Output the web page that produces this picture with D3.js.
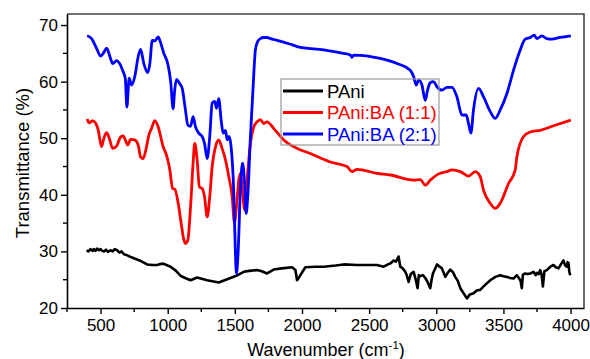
<!DOCTYPE html>
<html><head><meta charset="utf-8">
<script src="https://cdn.jsdelivr.net/npm/d3@7"></script>
<style>body{margin:0;background:#fff}svg{display:block}</style>
</head><body>
<script>
const xTicks = [500,1000,1500,2000,2500,3000,3500,4000];
const yTicks = [20,30,40,50,60,70];
const seriesNames = ["PAni","PAni:BA (1:1)","PAni:BA (2:1)"];
const seriesColors = ["#000000","#ff0000","#0000ff"];

const blueWn = [400,433,470,502,520,545,570,590,619,639,669,684,696,713,731,755,780,798,822,852,867,885,904,929,941,971,1003,1022,1040,1052,1065,1090,1108,1132,1150,1170,1189,1207,1231,1257,1274,1294,1313,1331,1350,1363,1380,1398,1413,1430,1443,1457,1472,1492,1504,1512,1524,1542,1557,1571,1584,1596,1616,1636,1653,1670,1690,1715,1740,1765,1815,1914,1964,2161,2310,2360,2372,2385,2583,2707,2806,2831,2851,2868,2893,2918,2935,2955,2980,3005,3042,3079,3117,3154,3191,3223,3240,3258,3277,3315,3352,3402,3439,3476,3526,3575,3625,3662,3700,3729,3749,3786,3823,3860,3922,4002];
const blueT = [68.1,67.6,65.9,64.5,65.0,65.9,64.4,63.2,63.7,63.3,61.7,60.6,55.5,60.6,59.4,60.9,64.4,65.7,63.2,61.6,63.2,67.3,67.2,67.9,67.3,65.0,62.9,60.0,55.2,58.5,60.4,59.6,58.8,55.0,52.3,52.1,53.8,52.0,50.9,50.3,49.1,46.4,50.3,56.2,56.5,55.3,57.0,53.2,50.9,51.4,49.7,50.3,48.5,40.3,29.7,26.1,29.7,41.4,45.6,42.6,36.7,39.7,50.3,59.1,65.6,67.1,67.6,67.8,67.8,67.6,67.3,66.6,66.2,65.6,65.0,64.7,64.3,64.7,64.1,63.2,62.0,60.9,59.4,60.3,59.4,56.7,58.5,59.8,60.0,59.1,58.5,59.0,59.0,57.3,54.1,54.1,52.6,50.9,55.0,58.8,57.3,54.7,53.5,55.0,57.9,62.0,65.6,67.5,67.8,68.2,67.6,68.1,67.6,67.5,67.8,68.1];

const redWn = [400,415,440,465,483,507,525,545,565,590,619,649,669,684,703,723,755,780,798,817,837,860,879,904,929,966,991,1016,1036,1053,1078,1100,1118,1132,1150,1170,1189,1201,1219,1236,1257,1274,1294,1313,1331,1356,1380,1405,1430,1455,1480,1497,1512,1529,1542,1557,1574,1591,1616,1641,1666,1690,1715,1740,1790,1864,1964,2062,2211,2335,2372,2410,2558,2658,2831,2881,2918,2955,3017,3079,3117,3179,3240,3290,3327,3352,3402,3439,3476,3538,3588,3600,3650,3700,3774,3873,4002];
const redT = [53.4,52.7,53.1,52.6,51.4,48.5,50.0,51.0,50.0,48.2,48.6,50.2,50.4,49.7,48.8,49.8,49.7,48.8,46.7,46.4,47.9,50.6,51.7,53.1,52.0,48.5,47.0,44.4,41.1,41.0,38.5,35.0,32.3,31.4,32.0,37.9,45.6,49.1,46.2,41.4,41.1,39.7,36.1,39.7,45.0,48.5,49.7,48.2,46.2,43.2,39.7,35.0,37.9,42.6,43.8,40.3,37.3,42.6,49.1,52.0,52.9,53.3,52.6,52.9,51.7,49.7,48.2,47.3,45.8,45.0,44.1,44.5,43.8,43.5,42.6,42.7,41.7,42.6,43.7,44.1,44.4,44.1,43.3,44.1,43.2,40.8,38.5,37.6,38.5,42.0,44.4,46.7,50.3,51.1,51.4,52.2,53.2];

const blackWn = [396,410,425,440,450,462,475,488,500,512,525,540,555,574,590,605,624,640,655,674,700,725,748,800,847,885,922,950,971,1000,1021,1060,1095,1130,1170,1219,1294,1380,1467,1520,1566,1620,1666,1700,1740,1789,1850,1926,1951,1963,1975,1988,2025,2100,2161,2250,2310,2410,2480,2558,2608,2640,2660,2682,2700,2719,2732,2750,2769,2780,2794,2810,2831,2845,2861,2870,2881,2900,2918,2935,2955,2965,2975,3005,3042,3067,3085,3104,3125,3141,3160,3179,3228,3250,3278,3300,3327,3360,3402,3440,3476,3500,3526,3550,3575,3600,3615,3628,3637,3645,3662,3680,3700,3724,3740,3749,3762,3774,3785,3794,3805,3823,3850,3873,3890,3910,3930,3947,3960,3972,3978,3985,3990,3997];
const blackT = [30.2,30.0,30.4,30.1,30.4,30.1,30.5,30.2,30.4,30.1,30.0,30.3,29.9,30.2,30.0,30.4,30.2,29.8,30.0,29.5,29.3,29.0,28.8,28.3,27.7,27.6,27.6,27.8,27.8,27.5,27.3,26.6,25.7,25.3,24.9,25.4,24.9,24.5,25.3,25.8,26.4,26.6,26.7,26.5,26.1,26.8,27.0,27.2,26.7,24.9,25.3,25.8,27.2,27.3,27.3,27.5,27.7,27.6,27.6,27.6,27.3,27.7,27.9,28.4,28.2,29.1,27.3,27.0,26.4,25.8,24.6,26.0,26.4,25.2,23.5,25.8,25.6,25.8,25.3,24.6,23.5,25.0,26.1,27.7,27.0,25.5,26.2,26.8,26.3,25.5,24.8,23.5,21.7,22.4,22.6,23.1,23.2,24.0,24.9,25.5,25.8,25.6,25.5,25.3,25.2,25.8,25.3,24.8,23.5,25.9,26.1,26.0,26.1,26.4,25.8,26.2,26.0,26.7,25.8,23.8,26.5,26.7,27.3,27.6,27.2,27.0,27.8,28.4,27.5,27.3,28.1,27.9,26.5,25.8];

const W = 590, H = 359;
const margin = {left: 67, top: 14, right: 6, bottom: 51};
const svg = d3.select("body").append("svg").attr("width", W).attr("height", H)
  .style("font-family", "Liberation Sans, Arial, sans-serif");

const x = d3.scaleLinear().domain([250, 4100]).range([margin.left, W - margin.right]);
const y = d3.scaleLinear().domain([20, 71.95]).range([H - margin.bottom, margin.top]);

const x0 = x.range()[0], x1 = x.range()[1], y0 = y.range()[0], y1 = y.range()[1];

// frame top/right
svg.append("path").attr("d", `M${x0},${y1}H${x1}V${y0}`).attr("fill","none")
  .attr("stroke","#444").attr("stroke-width",1.6);

// series
const line = d3.line().x(d => x(d[0])).y(d => y(d[1]));
const smooth = d3.line().x(d => x(d[0])).y(d => y(d[1])).curve(d3.curveMonotoneX);
const zip = (a,b) => a.map((v,i) => [v,b[i]]);
svg.append("path").attr("d", line(zip(blackWn, blackT))).attr("fill","none")
  .attr("stroke", seriesColors[0]).attr("stroke-width", 2.6).attr("stroke-linejoin","round");
svg.append("path").attr("d", smooth(zip(redWn, redT))).attr("fill","none")
  .attr("stroke", seriesColors[1]).attr("stroke-width", 2.8).attr("stroke-linejoin","round");
svg.append("path").attr("d", smooth(zip(blueWn, blueT))).attr("fill","none")
  .attr("stroke", seriesColors[2]).attr("stroke-width", 2.8).attr("stroke-linejoin","round");

// axes
const xAxis = d3.axisBottom(x).tickValues(xTicks).tickFormat(d3.format("d")).tickSize(6).tickSizeOuter(0).tickPadding(5);
const gx = svg.append("g").attr("transform", `translate(0,${y0})`).call(xAxis);
const yAxis = d3.axisLeft(y).tickValues(yTicks).tickFormat(d3.format("d")).tickSize(6).tickSizeOuter(0).tickPadding(3);
const gy = svg.append("g").attr("transform", `translate(${x0},0)`).call(yAxis);
[gx, gy].forEach(g => {
  g.select(".domain").attr("stroke","#000").attr("stroke-width",1.6);
  g.selectAll(".tick line").attr("stroke","#000").attr("stroke-width",1.4);
  g.selectAll("text").attr("font-size", 17).attr("fill","#000").attr("font-family","Liberation Sans, Arial, sans-serif");
});
// minor ticks
const xMinor = xTicks.slice(0,-1).map(v => v + 250).concat([250]);
gx.selectAll(".minor").data(xMinor).enter().append("line")
  .attr("x1", d => x(d)).attr("x2", d => x(d)).attr("y1", 0).attr("y2", 4)
  .attr("stroke","#000").attr("stroke-width",1.4);
const yMinor = yTicks.slice(0,-1).map(v => v + 5);
gy.selectAll(".minor").data(yMinor).enter().append("line")
  .attr("y1", d => y(d)).attr("y2", d => y(d)).attr("x1", 0).attr("x2", -4)
  .attr("stroke","#000").attr("stroke-width",1.4);

// axis titles
svg.append("text").attr("transform", `translate(29,${(y0+y1)/2 + 2}) rotate(-90)`)
  .attr("text-anchor","middle").attr("font-size",18.5).text("Transmittance (%)");
const xt = svg.append("text").attr("x", 326).attr("y", 356).attr("text-anchor","middle").attr("font-size",18);
xt.append("tspan").text("Wavenumber (cm");
xt.append("tspan").attr("dy",-7).attr("font-size",11.5).text("-1");
xt.append("tspan").attr("dy",7).text(")");

// legend
const lg = svg.append("g");
lg.append("rect").attr("x",281).attr("y",79).attr("width",158).attr("height",66)
  .attr("fill","none").attr("stroke","#999").attr("stroke-width",1.2);
seriesNames.forEach((n,i) => {
  const yy = 91 + i*21.5;
  lg.append("line").attr("x1",283).attr("x2",323).attr("y1",yy).attr("y2",yy)
    .attr("stroke",seriesColors[i]).attr("stroke-width",2.8);
  lg.append("text").attr("x",327).attr("y",yy+6.5).attr("font-size",18.5)
    .attr("fill",seriesColors[i]).text(n);
});
</script>
</body></html>
